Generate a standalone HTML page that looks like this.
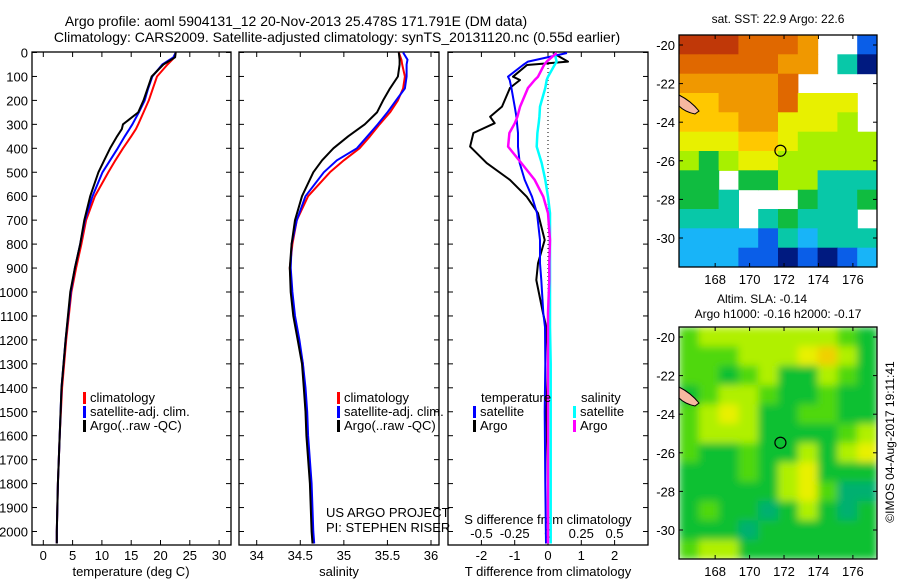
<!DOCTYPE html>
<html><head><meta charset="utf-8"><style>
html,body{margin:0;padding:0;background:#fff;}
svg{display:block;font-family:"Liberation Sans",sans-serif;}
</style></head><body>
<svg id="fig" width="900" height="580" viewBox="0 0 900 580" xmlns="http://www.w3.org/2000/svg">
<defs>
<filter id="blur" x="0" y="0" width="1" height="1"><feGaussianBlur stdDeviation="4" edgeMode="duplicate"/></filter>
<clipPath id="clipSst"><rect x="679" y="35" width="198" height="232"/></clipPath>
<clipPath id="clipSla"><rect x="679" y="327" width="198" height="232"/></clipPath>
</defs>
<text x="296" y="26" font-size="14" text-anchor="middle">Argo profile: aoml 5904131_12 20-Nov-2013 25.478S 171.791E (DM data)</text>
<text x="337" y="42" font-size="14" text-anchor="middle">Climatology: CARS2009. Satellite-adjusted climatology: synTS_20131120.nc (0.55d earlier)</text>
<g id="g"></g>
</svg>
<script>
// ---------- data ----------
const tDepth   = [0,20,50,100,150,200,250,300,320,350,400,450,500,600,700,800,900,1000,1200,1400,1600,1800,2000,2050];
const tArgo    = [22.6,22.5,20.5,18.5,17.8,17.1,16.2,13.6,13.4,12.6,11.4,10.4,9.4,8.0,7.0,6.3,5.4,4.6,3.8,3.1,2.8,2.5,2.3,2.3];
const tClim    = [22.6,22.4,21.2,19.4,18.7,18.0,17.1,16.2,15.8,15.0,13.6,12.3,11.1,8.8,7.3,6.5,5.6,4.8,3.9,3.2,2.8,2.5,2.3,2.3];
const tSat     = [22.6,22.2,20.3,18.6,17.9,17.3,16.3,15.2,14.7,13.9,12.7,11.4,10.1,8.4,7.1,6.3,5.4,4.7,3.8,3.1,2.8,2.5,2.3,2.3];
const sDepth   = [0,30,50,100,150,200,250,300,350,400,450,500,600,700,800,900,1000,1100,1200,1300,1400,1500,1600,1800,2000,2050];
const sArgo    = [35.63,35.64,35.64,35.62,35.53,35.45,35.38,35.24,35.05,34.88,34.75,34.65,34.52,34.44,34.40,34.38,34.39,34.42,34.47,34.52,34.54,34.56,34.57,34.61,34.63,34.64];
const sClim    = [35.63,35.66,35.67,35.70,35.68,35.62,35.53,35.41,35.30,35.18,35.00,34.84,34.59,34.46,34.41,34.38,34.40,34.43,34.48,34.53,34.55,34.57,34.58,34.62,34.64,34.65];
const sSat     = [35.68,35.73,35.72,35.72,35.70,35.60,35.50,35.39,35.27,35.15,34.92,34.77,34.56,34.46,34.40,34.39,34.41,34.44,34.49,34.53,34.56,34.58,34.59,34.63,34.65,34.66];
const dDepth   = [2,38,52,101,115,148,226,268,295,336,393,462,532,602,671,783,880,950,1088,1146,1300,1500,1800,2050];
const dTArgo   = [0.15,0.6,-0.63,-1.05,-0.84,-1.14,-1.38,-1.74,-1.6,-2.24,-2.34,-1.84,-1.14,-0.64,-0.3,-0.1,-0.3,-0.35,-0.15,-0.05,0.0,-0.05,0.0,0.0];
const dTSat    = [0.57,-0.6,-0.75,-1.2,-1.15,-1.1,-1.0,-0.95,-0.93,-0.9,-0.9,-0.85,-0.7,-0.48,-0.33,-0.24,-0.24,-0.2,-0.14,-0.09,-0.08,-0.1,-0.08,-0.06];
const dSArgo   = [0.065,-0.01,-0.03,-0.075,-0.1,-0.15,-0.21,-0.23,-0.25,-0.29,-0.3,-0.2,-0.1,-0.035,0.0,0.015,0.01,0.01,0.0,0.0,0.0,0.0,0.0,0.0];
const dSSat    = [0.05,0.065,0.05,0.0,-0.01,-0.02,-0.06,-0.065,-0.07,-0.08,-0.085,-0.047,-0.02,0.0,0.015,0.015,0.015,0.015,0.015,0.015,0.02,0.02,0.02,0.02];
const depthTicks = [0,100,200,300,400,500,600,700,800,900,1000,1100,1200,1300,1400,1500,1600,1700,1800,1900,2000];
const tTicks = [0,5,10,15,20,25,30];
const sTicks = [34,34.5,35,35.5,36];
const sTickLabels = ["34","34.5","35","35.5","36"];
const dtTicks = [-2,-1,0,1,2];
const dsTicks = [-0.5,-0.25,0,0.25,0.5];
const dsTickLabels = ["-0.5","-0.25","0","0.25","0.5"];
const lonTicks = [168,170,172,174,176];
const latTicks = [-20,-22,-24,-26,-28,-30];
const sstGrid = [
 [10,10,10,9,9,9,8,null,null,1],
 [9,9,9,9,9,8,8,null,3,0],
 [8,8,8,8,8,9,null,null,null,null],
 [7,7,8,8,8,9,6,6,6,null],
 [7,7,7,8,8,6,6,6,5,null],
 [6,6,6,7,7,6,5,5,5,5],
 [5,4,5,6,6,5,5,5,5,5],
 [4,4,null,4,4,5,5,3,3,3],
 [4,4,3,null,null,null,4,3,3,4],
 [3,3,3,null,3,4,3,3,3,null],
 [2,2,2,2,1,3,2,3,3,3],
 [2,2,2,1,1,0,1,0,1,2]];
const slaGrid = [
 [2,3,3,3,3,3,3,3,2,1],
 [2,2,2,3,3,3,4,5,3,1],
 [2,2,1,2,3,1,1,3,2,1],
 [1,2,3,3,2,1,1,2,1,1],
 [2,3,4,3,1,1,2,2,1,1],
 [2,3,3,3,1,1,1,1,2,3],
 [2,1,1,2,1,1,3,1,3,4],
 [1,1,1,2,1,3,4,1,1,1],
 [1,1,1,1,1,3,4,2,0,0],
 [1,2,1,1,0,1,3,1,0,1],
 [1,1,1,0,1,1,1,1,1,1],
 [2,3,3,1,1,1,1,1,1,1]];
const argoLon = 171.791, argoLat = -25.478;
// ---------- helpers ----------
const NS="http://www.w3.org/2000/svg";
const G=document.getElementById('g');
function mk(tag,attrs,parent){const e=document.createElementNS(NS,tag);for(const k in attrs)e.setAttribute(k,attrs[k]);(parent||G).appendChild(e);return e;}
function txt(s,x,y,size,anchor,parent){const e=mk('text',{x:x,y:y,'font-size':size,'text-anchor':anchor||'start'},parent);e.textContent=s;return e;}
const yD = d => 52.5 + d*0.2395;
const xT = t => 43.3 + t*5.86;
const xS = s => 256.7 + (s-34)*87.15;
const xDT = v => 548 + v*33.3;
const xDS = v => 548 + v*133;
const PT=52, PB=545;
const panels=[{x0:32,x1:231,n:'temperature-panel'},{x0:239,x1:439,n:'salinity-panel'},{x0:448,x1:648,n:'difference-panel'}];
panels.forEach(p=>{
  const r=mk('rect',{x:p.x0,y:PT,width:p.x1-p.x0,height:PB-PT,fill:'none',stroke:'#000','stroke-width':1.3});
  
  
  depthTicks.forEach(d=>{
    const l=mk('line',{x1:p.x0,x2:p.x0+5,y1:yD(d),y2:yD(d),stroke:'#000'});
    
    
    const l2=mk('line',{x1:p.x1,x2:p.x1-5,y1:yD(d),y2:yD(d),stroke:'#000'});
    
    
  });
});
depthTicks.forEach(d=>{
  const t=txt(String(d),28,yD(d)+5,13,'end');
  
  
});
function xticks(vals,labels,fx,ylab){
  vals.forEach((v,i)=>{
    const a=mk('line',{x1:fx(v),x2:fx(v),y1:PB,y2:PB-5,stroke:'#000'});
    
    
    const b=mk('line',{x1:fx(v),x2:fx(v),y1:PT,y2:PT+5,stroke:'#000'});
    
    
    if(labels){const t=txt(labels[i],fx(v),ylab,13,'middle');
      
      }
  });
}
xticks(tTicks,tTicks.map(String),xT,560);
xticks(sTicks,sTickLabels,xS,560);
xticks(dtTicks,dtTicks.map(String),xDT,560);
dsTicks.forEach((v,i)=>{const t=txt(dsTickLabels[i],xDS(v),538,13,'middle');
  
  });
[['temperature (deg C)',131,'temperature-axis-title'],['salinity',339,'salinity-axis-title'],['T difference from climatology',548,'t-diff-axis-title']].forEach(a=>{
  const t=txt(a[0],a[1],576,13,'middle');
  
  
});
const st=txt('S difference from climatology',548,524,13,'middle');


function series(xs,ds,fx,color,name,w){
  const pts=xs.map((v,i)=>fx(v).toFixed(1)+','+yD(ds[i]).toFixed(1)).join(' ');
  const p=mk('polyline',{points:pts,fill:'none',stroke:color,'stroke-width':w||2,'stroke-linejoin':'round'});
  
  
}
series(tClim,tDepth,xT,'#f00','temperature-climatology-line');
series(tSat,tDepth,xT,'#00f','temperature-satellite-line');
series(tArgo,tDepth,xT,'#000','temperature-argo-line');
series(sClim,sDepth,xS,'#f00','salinity-climatology-line');
series(sSat,sDepth,xS,'#00f','salinity-satellite-line');
series(sArgo,sDepth,xS,'#000','salinity-argo-line');
const dz=mk('line',{x1:548,x2:548,y1:PT,y2:300,stroke:'#000','stroke-dasharray':'1,3'});


series(dTArgo,dDepth,xDT,'#000','t-diff-argo-line',2);
series(dTSat,dDepth,xDT,'#00f','t-diff-satellite-line',2);
series(dSSat,dDepth,xDS,'#0ff','s-diff-satellite-line',2.5);
series(dSArgo,dDepth,xDS,'#f0f','s-diff-argo-line',2.5);
function legend(items,x,y,name){
  items.forEach((it,i)=>{
    const m=mk('rect',{x:x,y:y+i*14-10,width:3,height:12,fill:it[1]});
    
    
    const t=txt(it[0],x+7,y+i*14,13,'start');
    
    
  });
}
legend([['climatology','#f00'],['satellite-adj. clim.','#00f'],['Argo(..raw -QC)','#000']],83,402,'temperature-legend');
legend([['climatology','#f00'],['satellite-adj. clim.','#00f'],['Argo(..raw -QC)','#000']],337,402,'salinity-legend');
const lt=txt('temperature',481,402,13);  
const ls=txt('salinity',581,402,13);  
legend([['satellite','#00f'],['Argo','#000']],473,416,'diff-legend-temperature');
legend([['satellite','#0ff'],['Argo','#f0f']],573,416,'diff-legend-salinity');
const c1=txt('US ARGO PROJECT',326,517,13);  
const c2=txt('PI: STEPHEN RISER',326,532,13);  
// ---------- maps ----------
const MX0=679,MX1=877,LON0=165.9,LON1=177.4;
const xLon = l => MX0 + (l-LON0)*(MX1-MX0)/(LON1-LON0);
const sstCol=['#001a80','#0a5ee8','#18b4f8','#08c8a8','#10bc40','#a8f000','#e8f000','#ffc800','#f09800','#e06800','#c03808'];
const slaCol=['#00b070','#10c030','#50d810','#b0f000','#e8f000','#f0d000'];
function map(grid,cols,y0,name,clip,blur){
  const y1=y0+232, yLat=l=>y0+10+(-20-l)*19.3;
  const g=mk('g',{'clip-path':'url(#'+clip+')'});
  
  
  const inner=mk('g',blur?{filter:'url(#blur)'}:{},g);
  const nr=grid.length,nc=grid[0].length,cw=(MX1-MX0)/nc,ch=232/nr;
  grid.forEach((row,r)=>row.forEach((v,c)=>{
    if(v===null)return;
    const rc=mk('rect',{x:(MX0+c*cw).toFixed(1),y:(y0+r*ch).toFixed(1),width:(cw+0.6).toFixed(1),height:(ch+0.6).toFixed(1),fill:cols[v]},inner);
    
    
  }));
  const isl=mk('path',{d:'M679 '+(y0+60)+' q12 6 20 16 l-4 3 q-10 -2 -16 -8 z',fill:'#f6b8a0',stroke:'#000','stroke-width':1});
  
  
  const fr=mk('rect',{x:MX0,y:y0,width:MX1-MX0,height:232,fill:'none',stroke:'#000','stroke-width':1.3});
  
  
  lonTicks.forEach(l=>{
    const a=mk('line',{x1:xLon(l),x2:xLon(l),y1:y0,y2:y0+4,stroke:'#000'});
     
    const b=mk('line',{x1:xLon(l),x2:xLon(l),y1:y1,y2:y1-4,stroke:'#000'});
     
    const t=txt(String(l),xLon(l),y1+17,13,'middle');
     
  });
  latTicks.forEach(l=>{
    const a=mk('line',{x1:MX0,x2:MX0+4,y1:yLat(l),y2:yLat(l),stroke:'#000'});
     
    const b=mk('line',{x1:MX1,x2:MX1-4,y1:yLat(l),y2:yLat(l),stroke:'#000'});
     
    const t=txt(String(l),MX0-4,yLat(l)+5,13,'end');
     
  });
  const ci=mk('circle',{cx:xLon(argoLon),cy:yLat(argoLat),r:5.5,fill:'none',stroke:'#000','stroke-width':1.2});
  
  
}
map(sstGrid,sstCol,35,'sst-map','clipSst',false);
map(slaGrid,slaCol,327,'sla-map','clipSla',true);
const m1=txt('sat. SST: 22.9 Argo: 22.6',778,23,12,'middle');  
const m2=txt('Altim. SLA: -0.14',762,303,12,'middle');  
const m3=txt('Argo h1000: -0.16 h2000: -0.17',778,318,12,'middle');  
const cr=txt('©IMOS 04-Aug-2017 19:11:41',0,0,12,'middle');
cr.setAttribute('transform','translate(894,442) rotate(-90)');


</script>
</body></html>
